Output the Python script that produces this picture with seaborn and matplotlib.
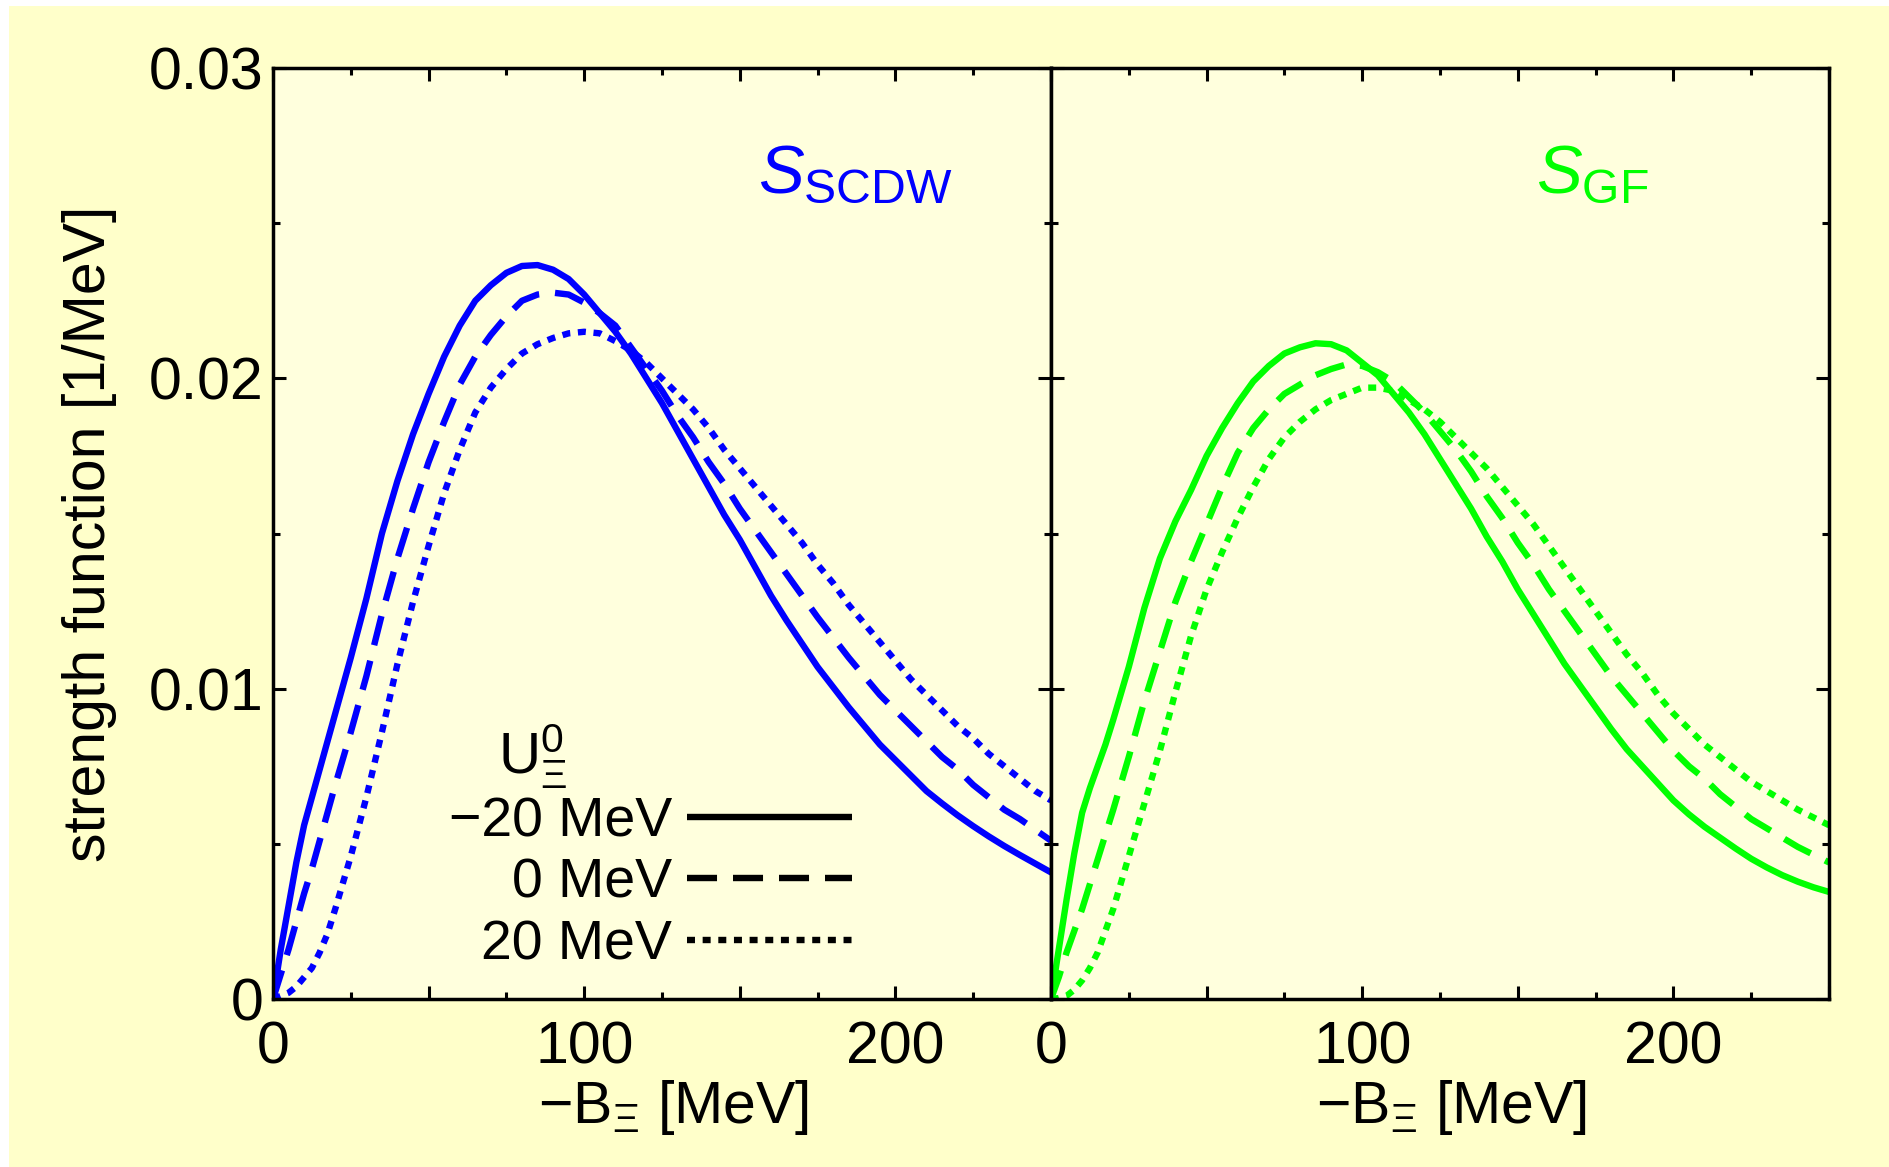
import numpy as np
import pandas as pd
import matplotlib
matplotlib.use("Agg")
import matplotlib.pyplot as plt
import seaborn as sns
from matplotlib.lines import Line2D
from matplotlib.patches import Rectangle
from matplotlib.ticker import MultipleLocator, FuncFormatter

# ---------------- data ----------------
energy = [0, 2.5, 5, 7.5, 10, 12.5, 15, 17.5, 20, 25, 30, 35, 40, 45, 50, 55, 60, 65,
          70, 75, 80, 85, 90, 95, 100, 105, 110, 115, 120, 125, 130, 135, 140, 145,
          150, 155, 160, 165, 170, 175, 180, 185, 190, 195, 200, 205, 210, 215, 220,
          225, 230, 235, 240, 245, 250]

scdw_m20 = [0, 0.0016, 0.0030, 0.0044, 0.0056, 0.0065, 0.0074, 0.0083, 0.0092, 0.0110,
            0.0129, 0.0150, 0.0167, 0.0182, 0.0195, 0.0207, 0.0217, 0.0225, 0.0230,
            0.0234, 0.02362, 0.02365, 0.0235, 0.0232, 0.0227, 0.0221, 0.0215, 0.0208,
            0.0200, 0.0192, 0.0183, 0.0174, 0.0165, 0.0156, 0.0148, 0.0139, 0.0130,
            0.0122, 0.01145, 0.0107, 0.01005, 0.0094, 0.0088, 0.0082, 0.0077, 0.0072,
            0.0067, 0.0063, 0.00592, 0.00557, 0.00524, 0.00493, 0.00464, 0.00436, 0.00408]
scdw_0 = [0, 0.0008, 0.0016, 0.0025, 0.0034, 0.0042, 0.0051, 0.0060, 0.0069, 0.0086,
          0.0104, 0.0124, 0.0142, 0.0158, 0.0173, 0.0186, 0.0198, 0.0207, 0.0214,
          0.0220, 0.0225, 0.0227, 0.02276, 0.0227, 0.02244, 0.0221, 0.0217, 0.0210,
          0.0203, 0.0196, 0.0188, 0.0181, 0.0173, 0.0166, 0.0158, 0.0151, 0.0144,
          0.0137, 0.0130, 0.0123, 0.01165, 0.0110, 0.0104, 0.0098, 0.0093, 0.0088,
          0.0083, 0.0078, 0.0074, 0.0069, 0.0065, 0.0061, 0.0058, 0.00545, 0.0051]
scdw_p20 = [0, 0.0001, 0.0002, 0.0004, 0.0007, 0.0010, 0.0015, 0.0021, 0.0029, 0.0046,
            0.0065, 0.0086, 0.0108, 0.0128, 0.0146, 0.0163, 0.0177, 0.0189, 0.0197,
            0.0203, 0.0208, 0.0211, 0.0213, 0.02145, 0.0215, 0.02145, 0.0212, 0.0209,
            0.0205, 0.0200, 0.0195, 0.0190, 0.0184, 0.0177, 0.0171, 0.0165, 0.0159,
            0.0153, 0.0147, 0.0140, 0.0134, 0.0127, 0.0121, 0.0115, 0.0109, 0.0103,
            0.0098, 0.0093, 0.0088, 0.0084, 0.0079, 0.0075, 0.0071, 0.0067, 0.0064]

gf_m20 = [0, 0.0016, 0.0032, 0.0047, 0.0060, 0.0068, 0.0075, 0.0082, 0.0090, 0.0107,
          0.0126, 0.0142, 0.0154, 0.0164, 0.0175, 0.0184, 0.0192, 0.0199, 0.0204,
          0.0208, 0.0210, 0.02113, 0.0211, 0.0209, 0.0205, 0.0201, 0.0195, 0.0189,
          0.0182, 0.0174, 0.0166, 0.0158, 0.0149, 0.0141, 0.0132, 0.0124, 0.0116,
          0.0108, 0.0101, 0.0094, 0.0087, 0.00805, 0.0075, 0.00695, 0.0064, 0.00595,
          0.00555, 0.0052, 0.00485, 0.00452, 0.00424, 0.00399, 0.00378, 0.0036, 0.00345]
gf_0 = [0, 0.0007, 0.0015, 0.0022, 0.0029, 0.0037, 0.0045, 0.0053, 0.0061, 0.0078,
        0.0096, 0.0112, 0.0128, 0.0141, 0.0153, 0.0165, 0.0176, 0.0184, 0.0190,
        0.0195, 0.0198, 0.0201, 0.0203, 0.02045, 0.0204, 0.0202, 0.0199, 0.0194,
        0.0189, 0.0183, 0.0177, 0.0170, 0.0162, 0.0155, 0.0147, 0.0140, 0.0132,
        0.0125, 0.0118, 0.0111, 0.0104, 0.0098, 0.0092, 0.0086, 0.0080, 0.0075,
        0.0071, 0.0066, 0.0062, 0.0058, 0.0055, 0.0052, 0.0049, 0.00465, 0.0044]
gf_p20 = [0, 0.00003, 0.0001, 0.0003, 0.0006, 0.0010, 0.0015, 0.0022, 0.0029, 0.0046,
          0.0063, 0.0080, 0.0099, 0.0117, 0.0132, 0.0144, 0.0155, 0.0165, 0.0174,
          0.0181, 0.0186, 0.0190, 0.0193, 0.0195, 0.0197, 0.0197, 0.0196, 0.0193,
          0.0190, 0.0186, 0.0181, 0.0176, 0.0171, 0.0165, 0.0159, 0.0153, 0.0146,
          0.0139, 0.0132, 0.0125, 0.0118, 0.0111, 0.0105, 0.0098, 0.0092, 0.0087,
          0.0082, 0.0078, 0.0074, 0.0070, 0.0067, 0.0064, 0.0061, 0.00585, 0.0056]

potential_labels = ["\u221220 MeV", "0 MeV", "20 MeV"]
x_ticklabel_values = [0, 100, 200]

# ---------------- long table for seaborn ----------------
series = {
    ("SCDW", potential_labels[0]): scdw_m20,
    ("SCDW", potential_labels[1]): scdw_0,
    ("SCDW", potential_labels[2]): scdw_p20,
    ("GF", potential_labels[0]): gf_m20,
    ("GF", potential_labels[1]): gf_0,
    ("GF", potential_labels[2]): gf_p20,
}
rows = []
for (model, pot), vals in series.items():
    for e, v in zip(energy, vals):
        rows.append({"model": model, "potential": pot, "energy": e, "strength": v})
df = pd.DataFrame(rows)

# ---------------- style ----------------
sns.set_theme(style="ticks")
plt.rcParams["font.family"] = ["Liberation Sans", "DejaVu Sans"]
plt.rcParams["mathtext.fontset"] = "custom"
plt.rcParams["mathtext.rm"] = "Liberation Sans"
plt.rcParams["mathtext.it"] = "Liberation Sans:italic"
plt.rcParams["mathtext.bf"] = "Liberation Sans:bold"
plt.rcParams["axes.unicode_minus"] = True
for key in ("text.color", "axes.labelcolor", "xtick.color", "ytick.color",
            "axes.edgecolor", "xtick.labelcolor", "ytick.labelcolor"):
    plt.rcParams[key] = "black"

LW = 4.6
dash_map = {potential_labels[0]: "", potential_labels[1]: (4.7, 2.5),
            potential_labels[2]: (1.25, 1.2)}
FS = 42.5

fig = plt.figure(figsize=(18.9, 11.67), dpi=100)
fig.patch.set_facecolor("white")
fig.patches.append(Rectangle((9 / 1890, 0), 1 - 9 / 1890, 1 - 6 / 1167,
                             transform=fig.transFigure, facecolor="#FFFFCA",
                             edgecolor="none", zorder=-10))

W, H = 1890, 1167
ax_w, ax_h = 778 / W, 931 / H
ax_b = 1 - 999 / H
ax1 = fig.add_axes([273 / W, ax_b, ax_w, ax_h])
ax2 = fig.add_axes([1051 / W, ax_b, ax_w, ax_h])

colors = {"SCDW": "#0000FF", "GF": "#00FF00"}
for ax, model in ((ax1, "SCDW"), (ax2, "GF")):
    ax.set_facecolor("#FFFFDD")
    sub = df[df["model"] == model]
    sns.lineplot(data=sub, x="energy", y="strength", style="potential",
                 style_order=potential_labels, dashes=dash_map, color=colors[model],
                 linewidth=LW, estimator=None, sort=False, legend=False, ax=ax)
    for ln in ax.get_lines():
        ln.set_dash_capstyle("butt")
        ln.set_solid_capstyle("round")
        ln.set_solid_joinstyle("round")
    ax.set_xlim(0, 250)
    ax.set_ylim(0, 0.03)
    ax.xaxis.set_major_locator(MultipleLocator(50))
    ax.xaxis.set_minor_locator(MultipleLocator(25))
    ax.yaxis.set_major_locator(MultipleLocator(0.01))
    ax.yaxis.set_minor_locator(MultipleLocator(0.005))
    ax.xaxis.set_major_formatter(FuncFormatter(
        lambda v, p: f"{int(round(v))}" if int(round(v)) in x_ticklabel_values else ""))
    ax.tick_params(which="both", direction="in", top=True, right=True,
                   width=2.2, color="black", labelcolor="black")
    ax.tick_params(which="major", length=9.5, labelsize=FS)
    ax.tick_params(which="minor", length=5.2)
    ax.tick_params(axis="x", which="major", pad=15.5)
    ax.tick_params(axis="y", which="major", pad=7)
    for s in ax.spines.values():
        s.set_linewidth(2.5)
        s.set_color("black")
        s.set_visible(True)
    ax.set_xlabel("\u2212B$_{\\Xi}$ [MeV]", fontsize=FS, color="black")
    ax.xaxis.label.set_horizontalalignment("center")
    ax.xaxis.label.set_verticalalignment("baseline")
    ax.xaxis.set_label_coords(0.515, -0.133)
    ax.set_ylabel("")
    ax.grid(False)

ax1.yaxis.set_major_formatter(FuncFormatter(lambda v, p: "0" if abs(v) < 1e-9 else f"{v:.2f}"))
ax2.tick_params(axis="y", labelleft=False)
ax1.set_ylabel("strength function [1/MeV]", fontsize=FS, color="black")
ax1.yaxis.set_label_coords(-0.201, 0.5)

ax1.text(0.624, 0.866, r"$S_{\mathrm{SCDW}}$", color="#0000FF", fontsize=49.5,
         transform=ax1.transAxes, ha="left", va="baseline")
ax2.text(0.624, 0.866, r"$S_{\mathrm{GF}}$", color="#00FF00", fontsize=49.5,
         transform=ax2.transAxes, ha="left", va="baseline")

# legend (black proxies)
handles = []
for lab in potential_labels:
    d = dash_map[lab]
    if d == "":
        h = Line2D([], [], color="black", linewidth=LW, linestyle="-", solid_capstyle="butt")
    else:
        h = Line2D([], [], color="black", linewidth=LW, dashes=d, dash_capstyle="butt")
    handles.append(h)
leg = ax1.legend(handles, potential_labels, loc="lower right",
                 bbox_to_anchor=(0.744, 0.03), frameon=False, markerfirst=False,
                 handlelength=2.97, handletextpad=0.27, labelspacing=0.17,
                 fontsize=40, borderpad=0, borderaxespad=0)
for t in leg.get_texts():
    t.set_color("black")
ax1.text(0.289, 0.242, r"$\mathrm{U}^{0}_{\Xi}$", fontsize=42, color="black",
         transform=ax1.transAxes, ha="left", va="baseline")

fig.savefig("out.png", dpi=100, facecolor=fig.get_facecolor())
